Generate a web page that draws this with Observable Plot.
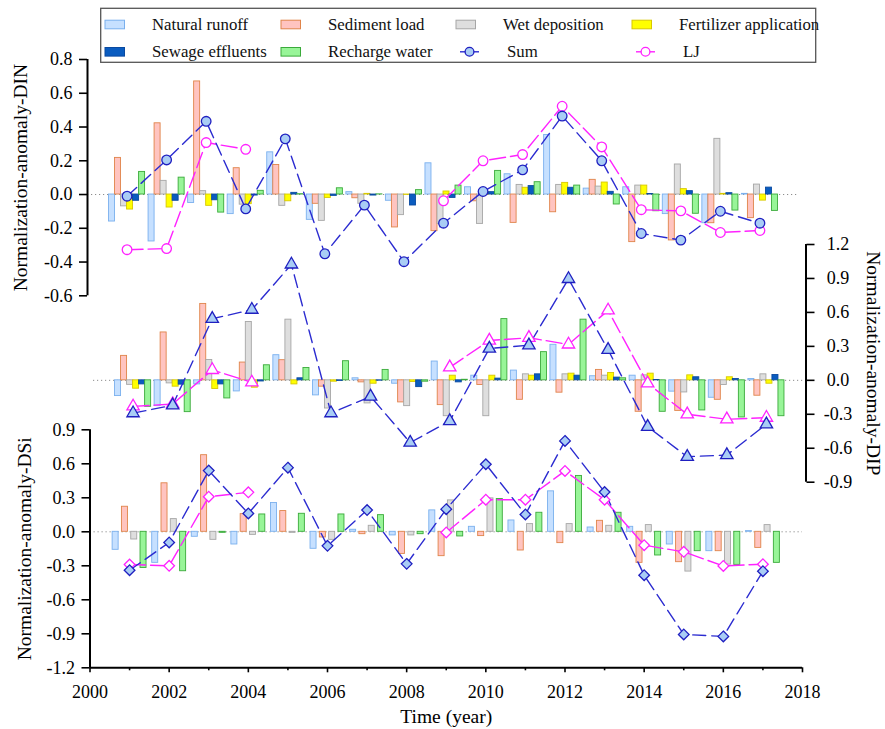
<!DOCTYPE html>
<html><head><meta charset="utf-8">
<script src="https://cdn.jsdelivr.net/npm/d3@7"></script>
<script src="https://cdn.jsdelivr.net/npm/@observablehq/plot@0.6"></script>
<style>
body{margin:0;background:#fff;}
#chart{position:relative;width:885px;height:729px;font-family:"Liberation Serif","Times New Roman",serif;}
#chart svg{position:absolute;left:0;top:0;}
#chart svg text{font-family:"Liberation Serif","Times New Roman",serif !important;}
#chart svg g[aria-label$="tick label"] text{font-size:18px !important;}
#chart svg text.axis-title{font-size:19.5px !important;}
</style></head><body><div id="chart"></div>
<script>
// ---------- data ----------
const years = [2001,2002,2003,2004,2005,2006,2007,2008,2009,2010,2011,2012,2013,2014,2015,2016,2017];
const xTickLabels = [2000,2002,2004,2006,2008,2010,2012,2014,2016,2018];
const xMinorTicks = [2001,2003,2005,2007,2009,2011,2013,2015,2017];
const sources = ["Natural runoff","Sediment load","Wet deposition","Fertilizer application","Sewage effluents","Recharge water"];
const dinTicks = [-0.6,-0.4,-0.2,0,0.2,0.4,0.6,0.8];
const dipTicks = [-0.9,-0.6,-0.3,0,0.3,0.6,0.9,1.2];
const dsiTicks = [-1.2,-0.9,-0.6,-0.3,0,0.3,0.6,0.9];

// DIN
const dinNatural  = [-0.16,-0.278,-0.05,-0.116,0.25,-0.15,0.014,-0.037,0.185,0.043,0.12,0.353,0.035,0.043,-0.116,-0.17,0.004];
const dinSediment = [0.217,0.422,0.67,0.156,0.175,-0.055,-0.022,-0.195,-0.217,-0.04,-0.168,-0.105,0.087,-0.282,-0.272,-0.17,-0.14];
const dinWet      = [-0.07,0.081,0.02,-0.06,-0.067,-0.156,-0.055,-0.122,-0.174,-0.174,0.057,0.057,0.047,0.053,0.178,0.33,0.059];
const dinFert     = [-0.089,-0.077,-0.067,-0.057,-0.04,-0.02,0.004,-0.002,0.018,0.014,0.04,0.069,0.071,0.053,0.032,0.004,-0.036];
const dinSewage   = [-0.037,-0.037,-0.034,-0.006,0.01,-0.008,-0.006,-0.065,-0.02,0.014,0.05,0.04,0.016,0.003,0.02,0.008,0.041];
const dinRecharge = [0.134,0.10,-0.107,0.022,0.002,0.037,0.001,0.026,0.053,0.14,0.073,0.053,-0.059,-0.099,-0.114,-0.095,-0.097];
const dinSum      = [-0.01,0.205,0.434,-0.085,0.33,-0.351,-0.063,-0.398,-0.17,0.018,0.146,0.465,0.20,-0.231,-0.27,-0.099,-0.17];
const dinLJ       = [-0.327,-0.32,0.308,0.268,null,null,null,null,-0.037,0.20,0.237,0.523,0.282,-0.09,-0.097,-0.225,-0.213];

// DIP
const dipNatural  = [-0.139,-0.228,-0.036,-0.098,0.222,-0.133,0.018,-0.03,0.166,0.041,0.086,0.314,0.036,0.041,-0.1,-0.154,0.012];
const dipSediment = [0.216,0.423,0.675,0.157,0.178,-0.056,-0.018,-0.195,-0.219,-0.041,-0.172,-0.109,0.092,-0.278,-0.27,-0.172,-0.136];
const dipWet      = [-0.04,-0.027,0.18,0.515,0.536,-0.249,-0.204,-0.228,-0.317,-0.317,0.053,0.053,0.041,0.044,-0.107,-0.041,0.053];
const dipFert     = [-0.074,-0.056,-0.077,-0.065,-0.036,-0.012,-0.03,-0.015,0.041,0.041,0.041,0.059,0.065,0.059,0.044,0.027,-0.03];
const dipSewage   = [-0.036,-0.038,-0.036,-0.01,0.018,-0.005,-0.003,-0.06,-0.018,0.015,0.053,0.041,0.024,0.003,0.027,0.012,0.047];
const dipRecharge = [-0.234,-0.281,-0.16,0.133,0.109,0.169,0.092,-0.012,0.005,0.541,0.249,0.536,0.018,-0.278,-0.266,-0.328,-0.317];
const dipSum      = [-0.29,-0.22,0.544,0.624,1.024,-0.29,-0.143,-0.55,-0.36,0.281,0.31,0.896,0.27,-0.41,-0.675,-0.66,-0.388];
const dipLJ       = [-0.23,-0.21,0.092,-0.018,null,null,null,null,0.115,0.352,0.376,0.317,0.618,-0.027,-0.30,-0.344,-0.33];

// DSi
const dsiNatural  = [-0.159,-0.274,-0.044,-0.112,0.254,-0.15,0.018,-0.032,0.189,0.044,0.10,0.357,0.038,0.044,-0.112,-0.171,0.006];
const dsiSediment = [0.221,0.428,0.676,0.156,0.183,-0.05,-0.021,-0.195,-0.215,-0.038,-0.165,-0.1,0.097,-0.274,-0.268,-0.171,-0.142];
const dsiWet      = [-0.068,0.112,-0.071,-0.027,-0.009,-0.071,0.053,-0.032,0.277,0.295,0.068,0.068,0.053,0.059,-0.351,-0.289,0.059];
const dsiRecharge = [-0.319,-0.348,-0.009,0.153,0.159,0.153,0.147,-0.021,-0.041,0.289,0.168,0.493,0.168,-0.209,-0.171,-0.292,-0.274];
const dsiSum      = [-0.339,-0.094,0.54,0.162,0.566,-0.124,0.192,-0.283,0.2,0.596,0.153,0.802,0.351,-0.383,-0.906,-0.923,-0.348];
const dsiLJ       = [-0.289,-0.30,0.31,0.348,null,null,null,null,-0.006,0.283,0.283,0.537,0.283,-0.118,-0.177,-0.301,-0.286];

// ---------- styles ----------
const barStyle = {
  "Natural runoff":         {fill:"#c6e0ff", stroke:"#7ab0ee"},
  "Sediment load":          {fill:"#ffc4c0", stroke:"#e0844a"},
  "Wet deposition":         {fill:"#dedede", stroke:"#a6a6a6"},
  "Fertilizer application": {fill:"#ffff00", stroke:"#d8c800"},
  "Sewage effluents":       {fill:"#0a5cc0", stroke:"#0a4aa0"},
  "Recharge water":         {fill:"#98f598", stroke:"#3aaa3a"}
};
const sumStyle = {line:"#2b2bd0", fill:"#a9cdf5", stroke:"#1f1fc0"};
const ljStyle = {line:"#ff22ff", fill:"#ffffff", stroke:"#ff22ff"};
const FONT = "Liberation Serif";
const fmt1 = d => d.toFixed(1);

function barData(series, keys, slot, barW) {
  const n = keys.length;
  return keys.flatMap((k, j) => years.map((yr, i) => {
    const c = yr + (j - (n - 1) / 2) * slot;
    return {key: k, x1: c - barW / 2, x2: c + barW / 2, v: series[k][i]};
  }));
}
function lineData(vals) { return years.map((yr, i) => ({year: yr, v: vals[i]})); }

function panel(cfg) {
  const bars = barData(cfg.series, cfg.keys, cfg.slot, cfg.barW);
  const sumD = lineData(cfg.sum), ljD = lineData(cfg.lj);
  const marks = [
    Plot.ruleY([0], {stroke:"#8c8c8c", strokeDasharray:"1.2,2.8", strokeWidth:1}),
    ...cfg.keys.map(k => Plot.rect(bars.filter(d => d.key === k),
      {x1:"x1", x2:"x2", y1:0, y2:"v", fill:barStyle[k].fill, stroke:barStyle[k].stroke, strokeWidth:0.9})),
    Plot.line(ljD, {x:"year", y:"v", stroke:ljStyle.line, strokeWidth:1.4, strokeDasharray:"16,5"}),
    Plot.line(sumD, {x:"year", y:"v", stroke:sumStyle.line, strokeWidth:1.4, strokeDasharray:"13,6"}),
    Plot.dot(ljD.filter(d => d.v != null), {x:"year", y:"v", symbol:cfg.symbol, r:cfg.r, fill:ljStyle.fill, stroke:ljStyle.stroke, strokeWidth:1.3}),
    Plot.dot(sumD, {x:"year", y:"v", symbol:cfg.symbol, r:cfg.r, fill:sumStyle.fill, stroke:sumStyle.stroke, strokeWidth:1.3}),
    Plot.ruleX([cfg.axisSide === "left" ? 2000 : 2018], {stroke:"black", strokeWidth:2}),
    Plot.axisY({anchor:cfg.axisSide, ticks:cfg.ticks, tickFormat:fmt1, tickSize:8,
      tickPadding: cfg.axisSide === "left" ? 7 : 24, textAnchor: cfg.axisSide === "left" ? "end" : "middle",
      label:null, fontSize:18, fontFamily:FONT, strokeWidth:1.6, fill:"black"}),
    Plot.text([cfg.label], {text:d => d, frameAnchor:cfg.axisSide, rotate: cfg.axisSide === "left" ? -90 : 90,
      textAnchor:"middle", lineAnchor:"middle", dx:cfg.labelDx, fontSize:19.5, fontFamily:FONT, fill:"black",
      className:"axis-title"})
  ];
  if (cfg.xAxis) {
    marks.push(
      Plot.ruleY([cfg.yDomain[0]], {stroke:"black", strokeWidth:2}),
      Plot.axisX({ticks:xTickLabels, tickFormat:d => String(d), tickSize:5, tickPadding:12,
        label:null, fontSize:18, fontFamily:FONT, strokeWidth:1.6, fill:"black"}),
      Plot.axisX({ticks:xMinorTicks, tickFormat:() => "", tickSize:3, label:null, strokeWidth:1.6}),
      Plot.text(["Time (year)"], {text:d => d, frameAnchor:"bottom", textAnchor:"middle", lineAnchor:"middle",
        dy:49, fontSize:19.5, fontFamily:FONT, fill:"black"})
    );
  }
  const svg = Plot.plot({
    width:885, height:729,
    marginLeft:cfg.frame[0], marginRight:885 - cfg.frame[1],
    marginTop:cfg.frame[2], marginBottom:729 - cfg.frame[3],
    x:{domain:[2000,2018], axis:null},
    y:{domain:cfg.yDomain, axis:null},
    style:{background:"transparent", fontFamily:FONT, fontSize:"18px", overflow:"visible", color:"black"},
    marks
  });
  // tag the title texts so the stylesheet can size them
  d3.select(svg).selectAll("text").filter(function() {
    const t = this.textContent;
    return t.startsWith("Normalization") || t === "Time (year)";
  }).classed("axis-title", true);
  return svg;
}

const sixKeys = sources;
const fourKeys = ["Natural runoff","Sediment load","Wet deposition","Recharge water"];

const dinPanel = panel({
  series:{"Natural runoff":dinNatural,"Sediment load":dinSediment,"Wet deposition":dinWet,
          "Fertilizer application":dinFert,"Sewage effluents":dinSewage,"Recharge water":dinRecharge},
  keys:sixKeys, slot:0.152, barW:0.152, sum:dinSum, lj:dinLJ,
  yDomain:[-0.6,0.8], ticks:dinTicks, frame:[87,799,59,295.3], axisSide:"left",
  symbol:"circle", r:4.8, label:"Normalization-anomaly-DIN", labelDx:-66.5, xAxis:false
});
const dipPanel = panel({
  series:{"Natural runoff":dipNatural,"Sediment load":dipSediment,"Wet deposition":dipWet,
          "Fertilizer application":dipFert,"Sewage effluents":dipSewage,"Recharge water":dipRecharge},
  keys:sixKeys, slot:0.152, barW:0.152, sum:dipSum, lj:dipLJ,
  yDomain:[-0.9,1.2], ticks:dipTicks, frame:[93,805.5,244,481.7], axisSide:"right",
  symbol:"triangle", r:4.6, label:"Normalization-anomaly-DIP", labelDx:67.5, xAxis:false
});
const dsiPanel = panel({
  series:{"Natural runoff":dsiNatural,"Sediment load":dsiSediment,"Wet deposition":dsiWet,"Recharge water":dsiRecharge},
  keys:fourKeys, slot:0.235, barW:0.152, sum:dsiSum, lj:dsiLJ,
  yDomain:[-1.2,0.9], ticks:dsiTicks, frame:[89.5,802,429.3,667.3], axisSide:"left",
  symbol:"diamond2", r:4.8, label:"Normalization-anomaly-DSi", labelDx:-65.5, xAxis:true
});

const chartEl = document.getElementById("chart");
chartEl.append(dinPanel, dipPanel, dsiPanel);

// ---------- legend ----------
const legendEntries = [
  {name:"Natural runoff", type:"bar", col:0, row:0},
  {name:"Sediment load", type:"bar", col:1, row:0},
  {name:"Wet deposition", type:"bar", col:2, row:0},
  {name:"Fertilizer application", type:"bar", col:3, row:0},
  {name:"Sewage effluents", type:"bar", col:0, row:1},
  {name:"Recharge water", type:"bar", col:1, row:1},
  {name:"Sum", type:"sum", col:2, row:1},
  {name:"LJ", type:"lj", col:3, row:1}
];
const colX = [105, 281, 456, 632];
const rowY = [24.5, 51.8];
const lg = d3.create("svg").attr("width", 885).attr("height", 70)
  .style("position","absolute").style("left","0").style("top","0");
lg.append("rect").attr("x",100.7).attr("y",8.3).attr("width",715).attr("height",54)
  .attr("fill","none").attr("stroke","#555").attr("stroke-width",1.3);
for (const e of legendEntries) {
  const x0 = colX[e.col], yc = rowY[e.row];
  if (e.type === "bar") {
    lg.append("rect").attr("x",x0).attr("y",yc-4.3).attr("width",19.5).attr("height",8.6)
      .attr("fill",barStyle[e.name].fill).attr("stroke",barStyle[e.name].stroke).attr("stroke-width",1);
  } else {
    const s = e.type === "sum" ? sumStyle : ljStyle;
    const lx = x0 + 4, cx = lx + 9.5;
    lg.append("line").attr("x1",lx).attr("x2",lx+19).attr("y1",yc).attr("y2",yc)
      .attr("stroke",s.line).attr("stroke-width",1.4);
    lg.append("circle").attr("cx",cx).attr("cy",yc).attr("r",4.4)
      .attr("fill",s.fill).attr("stroke",s.stroke).attr("stroke-width",1.3);
  }
  lg.append("text").attr("x", x0 + 47 + (e.type === "bar" ? 0 : 4)).attr("y", yc).attr("dy","0.33em")
    .attr("font-family",FONT).attr("font-size",16.8).attr("fill","#111").text(e.name);
}
chartEl.append(lg.node());
</script>
</body></html>
